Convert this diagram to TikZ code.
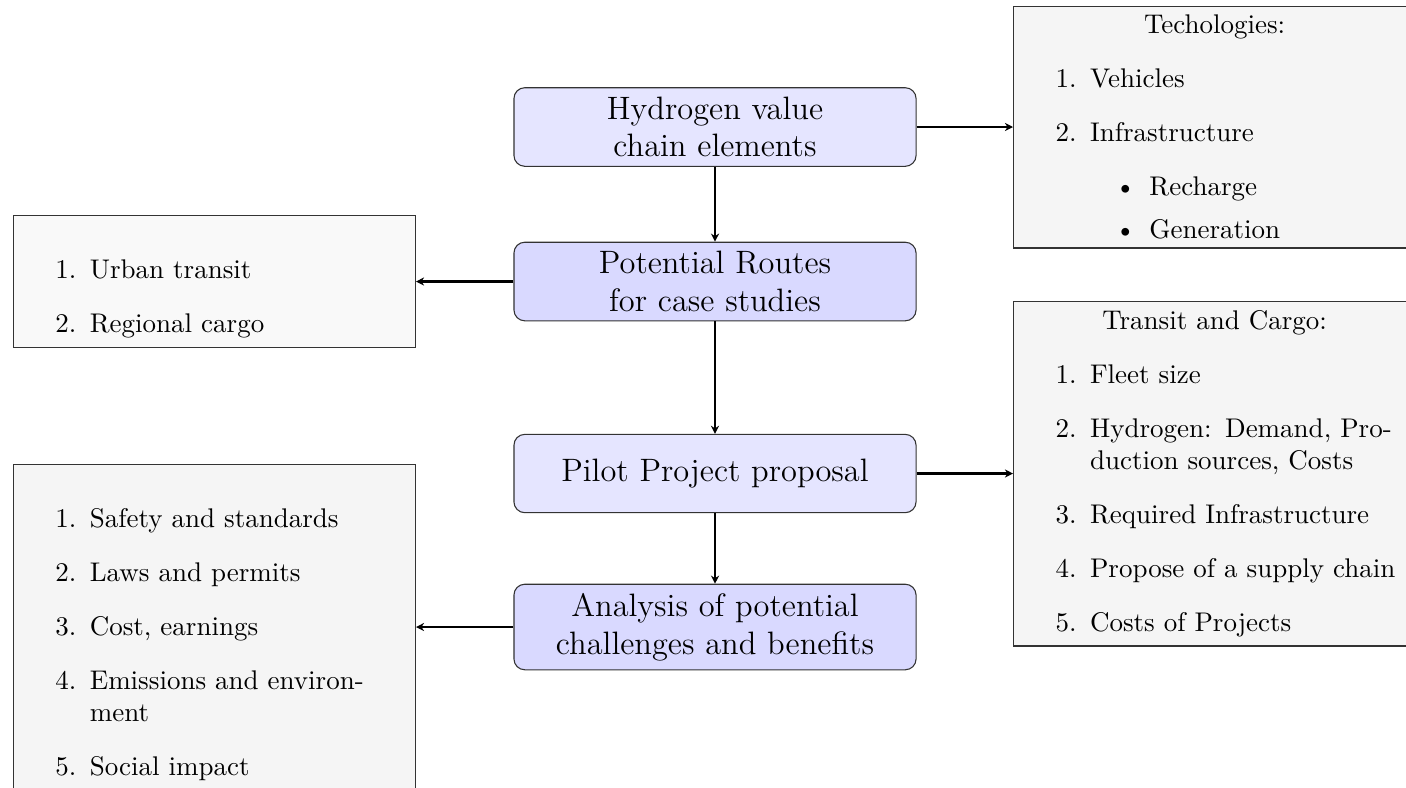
\documentclass[tikz,border=0pt]{standalone}
\usetikzlibrary{arrows.meta}
\makeatletter
\newcommand{\raggedlist}{\@rightskip=0pt plus 2em\relax
  \rightskip=\@rightskip\leftskip\z@skip
  \spaceskip=.3333em\relax\xspaceskip=.5em\relax}
\makeatother
\begin{document}
\begin{tikzpicture}[x=0.37037pt,y=-0.37037pt,
  stage/.style={draw=black!80, rounded corners=4pt, text width=5cm,
    align=center, minimum height=29pt, font=\large, inner sep=3.33pt},
  stageA/.style={stage, fill=blue!10},
  stageB/.style={stage, fill=blue!15},
  info/.style={draw=black!80, fill=gray!8, text width=5cm, inner sep=3.33pt},
  arr/.style={thick, -{Stealth[length=3pt,width=3pt]}}
]
\useasboundingbox (0,0) rectangle (1406,787);

\node[stageA] (n1) at (715,127) {Hydrogen value\\chain elements};
\node[stageB] (n2) at (715,281.5) {Potential Routes\\for case studies};
\node[stageA] (n3) at (715,473.5) {Pilot Project proposal};
\node[stageB] (n4) at (715,627) {Analysis of potential\\challenges and benefits};

\node[info, anchor=west, text height=6.94pt, text depth=76pt] (t1) at (1013,127) {\raggedlist\centering Techologies:
  \begin{enumerate}
  \item Vehicles
  \item Infrastructure
    \begin{itemize}
    \item Recharge
    \item Generation
    \end{itemize}
  \end{enumerate}};

\node[info, fill=gray!5, anchor=east] (t2) at (416,281.5) {\raggedlist\begin{enumerate}
  \item Urban transit
  \item Regional cargo
  \end{enumerate}};

\node[info, anchor=west] (t3) at (1013,473.5) {\raggedlist\centering Transit and Cargo:
  \begin{enumerate}
  \item Fleet size
  \item Hydrogen: Demand, Production sources, Costs
  \item Required Infrastructure
  \item Propose of a supply chain
  \item Costs of Projects
  \end{enumerate}};

\node[info, anchor=east] (t4) at (416,627) {\raggedlist\begin{enumerate}
  \item Safety and standards
  \item Laws and permits
  \item Cost, earnings
  \item Emissions and environment
  \item Social impact
  \end{enumerate}};

\draw[arr] (n1) -- (n2);
\draw[arr] (n2) -- (n3);
\draw[arr] (n3) -- (n4);
\draw[arr] (n1) -- (t1);
\draw[arr] (n2) -- (t2);
\draw[arr] (n3) -- (t3);
\draw[arr] (n4) -- (t4);
\end{tikzpicture}
\end{document}
